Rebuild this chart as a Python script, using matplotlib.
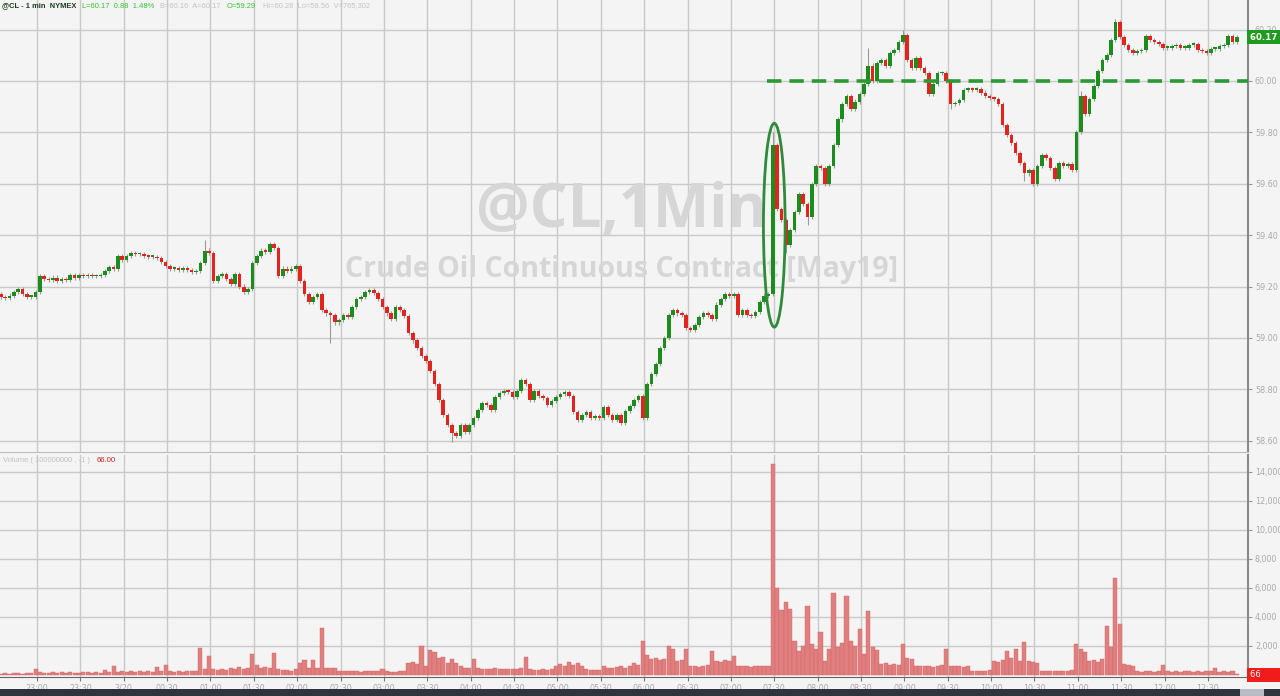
import numpy as np
import matplotlib
matplotlib.use('Agg')
import matplotlib.pyplot as plt
from matplotlib.patches import Ellipse, Rectangle
from matplotlib.transforms import blended_transform_factory

# 3-minute bars starting 22:35 (minutes relative to 23:00)
start_min = -25
bar_min = 3

closes = [
    59.16, 59.155, 59.165, 59.18, 59.19, 59.17, 59.16, 59.16, 59.18, 59.24,
    59.23, 59.225, 59.235, 59.22, 59.23, 59.225, 59.245, 59.235, 59.245, 59.24,
    59.245, 59.24, 59.24, 59.245, 59.26, 59.275, 59.27, 59.32, 59.305, 59.32,
    59.33, 59.325, 59.325, 59.32, 59.315, 59.315, 59.31, 59.295, 59.28, 59.27,
    59.27, 59.265, 59.27, 59.265, 59.255, 59.26, 59.29, 59.34, 59.33, 59.22,
    59.24, 59.25, 59.23, 59.21, 59.25, 59.20, 59.18, 59.19, 59.29, 59.32,
    59.34, 59.335, 59.365, 59.35, 59.24, 59.27, 59.26, 59.27, 59.28, 59.22,
    59.17, 59.14, 59.16, 59.17, 59.11, 59.095, 59.09, 59.06, 59.07, 59.09,
    59.08, 59.12, 59.15, 59.16, 59.18, 59.185, 59.175, 59.15, 59.12, 59.095,
    59.075, 59.12, 59.11, 59.085, 59.02, 58.99, 58.96, 58.93, 58.91, 58.87,
    58.82, 58.76, 58.70, 58.66, 58.63, 58.62, 58.66, 58.635, 58.66, 58.69,
    58.72, 58.745, 58.74, 58.72, 58.77, 58.785, 58.795, 58.79, 58.77, 58.795,
    58.835, 58.82, 58.76, 58.795, 58.775, 58.765, 58.74, 58.755, 58.77, 58.78,
    58.79, 58.775, 58.71, 58.68, 58.70, 58.71, 58.69, 58.695, 58.69, 58.73,
    58.70, 58.68, 58.70, 58.67, 58.715, 58.735, 58.76, 58.775, 58.69, 58.82,
    58.86, 58.90, 58.96, 59.00, 59.09, 59.11, 59.095, 59.09, 59.04, 59.03,
    59.05, 59.08, 59.095, 59.09, 59.075, 59.13, 59.15, 59.17, 59.165, 59.17,
    59.09, 59.11, 59.09, 59.085, 59.10, 59.14, 59.165, 59.17, 59.75, 59.50,
    59.46, 59.36, 59.42, 59.49, 59.56, 59.52, 59.47, 59.60, 59.67, 59.66,
    59.60, 59.67, 59.75, 59.85, 59.91, 59.94, 59.89, 59.92, 59.95, 59.99,
    60.06, 60.00, 60.07, 60.08, 60.06, 60.11, 60.12, 60.15, 60.18, 60.08,
    60.05, 60.09, 60.05, 60.03, 59.95, 59.99, 60.03, 60.03, 60.00, 59.91,
    59.915, 59.925, 59.965, 59.97, 59.965, 59.97, 59.955, 59.94, 59.935, 59.93,
    59.91, 59.83, 59.79, 59.76, 59.72, 59.68, 59.64, 59.655, 59.60, 59.67,
    59.71, 59.70, 59.66, 59.62, 59.68, 59.67, 59.675, 59.655, 59.80, 59.94,
    59.87, 59.93, 59.98, 60.04, 60.08, 60.10, 60.16, 60.23, 60.17, 60.14,
    60.12, 60.11, 60.115, 60.12, 60.175, 60.16, 60.15, 60.145, 60.13, 60.13,
    60.135, 60.14, 60.13, 60.13, 60.14, 60.145, 60.12, 60.115, 60.11, 60.125,
    60.125, 60.135, 60.14, 60.175, 60.15, 60.17,
]
first_open = 59.17

# bars with visible long wicks
spike_hi = {47: 59.38, 178: 59.80, 200: 60.13, 208: 60.20, 257: 60.24, 249: 59.96}
spike_lo = {76: 58.98, 104: 58.595, 181: 59.33, 186: 59.44, 236: 59.61, 219: 59.89}

volume = [
    100, 120, 90, 110, 130, 100, 120, 110, 400, 180,
    150, 170, 200, 160, 180, 150, 190, 170, 160, 180,
    200, 170, 190, 160, 360, 220, 640, 230, 250, 210,
    240, 220, 260, 230, 250, 220, 520, 260, 700, 240,
    220, 260, 230, 250, 240, 280, 1840, 400, 1300, 380,
    350, 420, 360, 500, 380, 550, 400, 450, 1450, 700,
    450, 520, 480, 1540, 400, 320, 350, 300, 420, 800,
    1040, 450, 1000, 500, 3270, 500, 480, 450, 300, 260,
    240, 280, 250, 230, 270, 250, 240, 260, 400, 240,
    220, 230, 250, 240, 850, 900, 750, 2000, 600, 1730,
    1550, 1200, 1270, 820, 1100, 800, 650, 480, 500, 1090,
    450, 400, 420, 380, 450, 400, 430, 390, 420, 380,
    450, 1270, 380, 360, 350, 400, 340, 380, 600, 750,
    650, 900, 700, 850, 600, 380, 350, 370, 360, 640,
    500, 450, 550, 600, 500, 650, 820, 700, 2360, 1400,
    1100, 1200, 1000, 1100, 2000, 1800, 970, 1000, 1780, 600,
    650, 580, 620, 700, 1660, 970, 900, 1000, 950, 1320,
    620, 600, 650, 580, 640, 600, 620, 650, 14550, 6000,
    4500, 5000, 4550, 2350, 1660, 2000, 4780, 2120, 1800, 2930,
    970, 1800, 5660, 1900, 2200, 5470, 2350, 2000, 3160, 1430,
    4430, 1900, 1700, 740, 800, 700, 760, 720, 2170, 1200,
    1100, 620, 650, 600, 640, 580, 620, 700, 1780, 620,
    600, 640, 580, 600, 280, 300, 260, 290, 320, 970,
    900, 1000, 1660, 1200, 1780, 970, 2240, 970, 900, 800,
    300, 280, 260, 290, 270, 300, 280, 320, 2170, 1780,
    1600, 970, 1000, 900, 1100, 3400, 1900, 6700, 3500, 740,
    700, 600, 250, 230, 260, 240, 220, 250, 690, 240,
    230, 260, 220, 250, 240, 230, 260, 220, 250, 240,
    460, 230, 250, 220, 240, 66,
]

price_ticks = [58.60, 58.80, 59.00, 59.20, 59.40, 59.60, 59.80, 60.00, 60.20]
vol_ticks = [2000, 4000, 6000, 8000, 10000, 12000, 14000]
time_labels = ['23:00', '23:30', '3/20', '00:30', '01:00', '01:30', '02:00', '02:30',
               '03:00', '03:30', '04:00', '04:30', '05:00', '05:30', '06:00', '06:30',
               '07:00', '07:30', '08:00', '08:30', '09:00', '09:30', '10:00', '10:30',
               '11:00', '11:30', '12:00', '12:30']
level = 60.00
spike_bar = 178

header = [('@CL - 1 min  NYMEX', '#1e3d1e'), ('L=60.17  0.88  1.48%', '#2fc42f'),
          ('B=60.16  A=60.17', '#c4c4c4'), ('O=59.29', '#2fc42f'),
          ('Hi=60.28  Lo=58.56  V=765,302', '#c4c4c4')]
header_x = [2, 82, 160, 227, 263]

closes = np.array(closes)
volume = np.array(volume)
n = len(closes)
t = start_min + bar_min * np.arange(n)
opens = np.concatenate([[first_open], closes[:-1]])
highs = np.maximum(opens, closes) + 0.008
lows = np.minimum(opens, closes) - 0.008
for k, v in spike_hi.items():
    highs[k] = v
for k, v in spike_lo.items():
    lows[k] = v

W, H = 1280, 696
bg = '#f4f4f4'
grid_c = '#c9c9c9'
lab_c = '#aaaaaa'
green = '#1c8c1c'
red = '#e3231d'
fs_tick = 5.8

fig = plt.figure(figsize=(W / 100, H / 100), dpi=100, facecolor=bg)
ax = fig.add_axes([0, (H - 452) / H, 1248 / W, 452 / H], facecolor=bg)
axv = fig.add_axes([0, (H - 677) / H, 1248 / W, (677 - 455) / H], facecolor=bg, sharex=ax)

xmin, xmax = -25.6, 837.7
tick_pos = 30 * np.arange(len(time_labels))

# price panel
ax.set_xlim(xmin, xmax)
ax.set_ylim(58.556, 60.315)
ax.set_xticks(tick_pos)
ax.set_yticks(price_ticks)
ax.set_yticklabels([f'{p:.2f}' for p in price_ticks])
ax.grid(True, color=grid_c, lw=1)
ax.set_axisbelow(True)
ax.yaxis.tick_right()
ax.tick_params(axis='y', colors='#999999', labelcolor=lab_c, labelsize=fs_tick, length=3, pad=2)
ax.tick_params(axis='x', length=0, labelbottom=False)
for s in ['left', 'top']:
    ax.spines[s].set_visible(False)
ax.spines['right'].set_color('#8a8a8a')
ax.spines['right'].set_linewidth(1.5)
ax.spines['bottom'].set_color('#bdbdbd')

trw = blended_transform_factory(ax.transAxes, ax.transData)
ax.text(0.498, 59.49, '@CL,1Min', transform=trw, ha='center', va='center', fontsize=43,
        fontweight='bold', color='#d6d6d6', family='Open Sans', zorder=1)
ax.text(0.498, 59.265, 'Crude Oil Continuous Contract [May19]', transform=trw, ha='center',
        va='center', fontsize=20.5, fontweight='bold', color='#d6d6d6', family='Open Sans',
        zorder=1)

cols = np.where(closes >= opens, green, red)
ax.vlines(t, lows, highs, color='#9a9a9a', lw=0.8, zorder=3)
body = np.maximum(np.abs(closes - opens), 0.006)
ax.bar(t, body, bottom=np.minimum(opens, closes), width=2.5, color=cols, lw=0, zorder=4)

ax.hlines(level, t[spike_bar - 1] - 1, xmax, colors='#2a9a35', lw=2.6,
          linestyles=(0, (4, 2.2)), zorder=5)

ell_y = (lows[spike_bar - 6:spike_bar + 1].min() + highs[spike_bar]) / 2
ell_h = highs[spike_bar] - lows[spike_bar - 6:spike_bar + 1].min() + 0.07
ax.add_patch(Ellipse((t[spike_bar] + 1, ell_y), 15, ell_h, fill=False,
                     ec='#2e8b3a', lw=2, zorder=6))

tr = blended_transform_factory(ax.transAxes, ax.transData)
ax.text(1.0015, closes[-1], f'{closes[-1]:.2f}' + ' ', transform=tr, ha='left', va='center',
        fontsize=6.2, fontweight='bold', color='white', zorder=10,
        bbox=dict(boxstyle='square,pad=0.3', fc='#1f9a1f', ec='none'))

# volume panel
axv.set_ylim(-140, 15170)
axv.set_yticks(vol_ticks)
axv.set_yticklabels([f'{v:,}' for v in vol_ticks])
axv.set_xticks(tick_pos)
axv.set_xticklabels(time_labels)
axv.grid(True, color=grid_c, lw=1)
axv.set_axisbelow(True)
axv.yaxis.tick_right()
axv.tick_params(axis='y', colors='#999999', labelcolor=lab_c, labelsize=fs_tick, length=3, pad=2)
axv.tick_params(axis='x', colors='#777777', labelcolor=lab_c, labelsize=fs_tick, length=3, pad=2)
for s in ['left', 'top']:
    axv.spines[s].set_visible(False)
axv.spines['right'].set_color('#8a8a8a')
axv.spines['right'].set_linewidth(1.5)
axv.spines['bottom'].set_color('#666666')
axv.bar(t, volume, width=bar_min * 0.95, color='#e07f7f', ec='#d46464', lw=0.3, zorder=3)
trv = blended_transform_factory(axv.transAxes, axv.transData)
axv.text(1.0015, 0, f'{volume[-1]:d}' + '       ', transform=trv, ha='left', va='center',
         fontsize=6, color='white', zorder=10,
         bbox=dict(boxstyle='square,pad=0.3', fc='#f01c1c', ec='none'))
axv.text(3 / 1248, 0.99, 'Volume ( 100000000 , -1 )', transform=axv.transAxes, ha='left',
         va='top', fontsize=5.4, color='#c0c0c0', family='Liberation Sans')
axv.text(97 / 1248, 0.99, '66.00', transform=axv.transAxes, ha='left', va='top',
         fontsize=5.6, color='#d02020', family='Liberation Sans')

# header
for (txt, c), hx in zip(header, header_x):
    fig.text(hx / W, 1 - 6 / H, txt, ha='left', va='center', fontsize=5.4, color=c,
             fontweight='bold' if hx == 2 else 'normal', family='Liberation Sans')

# bottom bar
fig.patches.append(Rectangle((0, 0), 1, 7 / H, transform=fig.transFigure,
                             fc='#2f353e', ec='none'))
fig.patches.append(Rectangle((1240 / W, 0), 24 / W, 7 / H, transform=fig.transFigure,
                             fc='#b8bcc2', ec='none'))

fig.savefig('out.png', dpi=100, facecolor=bg)
